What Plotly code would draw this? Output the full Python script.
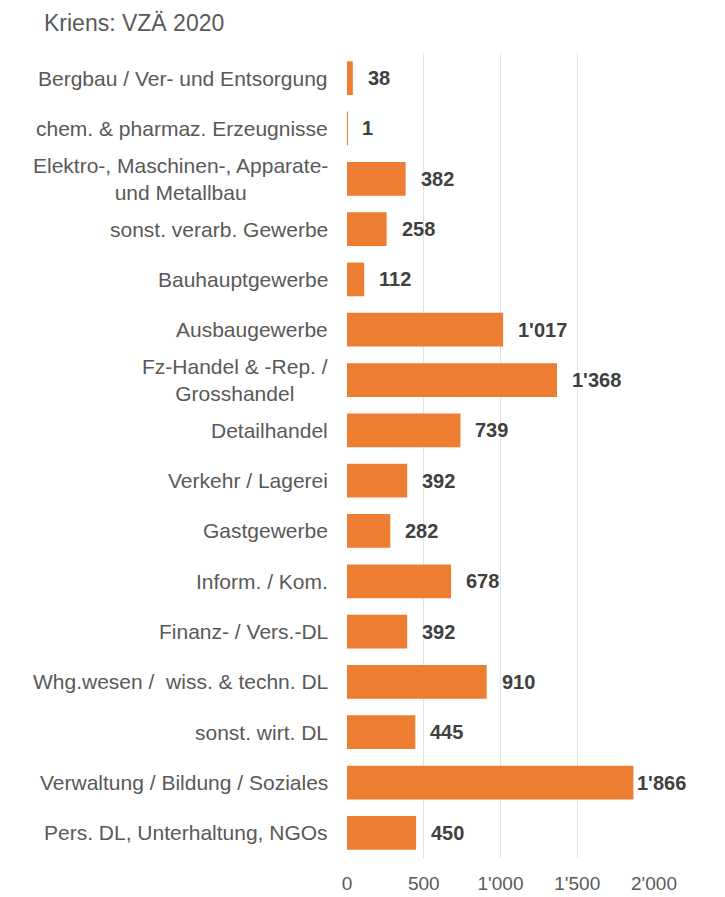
import plotly.graph_objects as go

title = "Kriens: VZÄ 2020"
categories = [
    "Bergbau / Ver- und Entsorgung",
    "chem. & pharmaz. Erzeugnisse",
    "Elektro-, Maschinen-, Apparate-<br>und Metallbau",
    "sonst. verarb. Gewerbe",
    "Bauhauptgewerbe",
    "Ausbaugewerbe",
    "Fz-Handel & -Rep. /<br>Grosshandel",
    "Detailhandel",
    "Verkehr / Lagerei",
    "Gastgewerbe",
    "Inform. / Kom.",
    "Finanz- / Vers.-DL",
    "Whg.wesen /  wiss. & techn. DL",
    "sonst. wirt. DL",
    "Verwaltung / Bildung / Soziales",
    "Pers. DL, Unterhaltung, NGOs",
]
values = [38, 1, 382, 258, 112, 1017, 1368, 739, 392, 282, 678, 392, 910, 445, 1866, 450]
tick_vals = [0, 500, 1000, 1500, 2000]

BAR = "#ED7D31"
FONT = "Liberation Sans, Arial, sans-serif"

def fmt(v):
    return f"{v:,}".replace(",", "'")

fig = go.Figure(go.Bar(
    x=values, y=categories, orientation="h",
    marker=dict(color=BAR, line=dict(width=0)),
    width=0.67,
    hoverinfo="skip",
))

annotations = []
for c, v in zip(categories, values):
    annotations.append(dict(
        x=0, y=c, xref="x", yref="y", text=c, showarrow=False,
        xanchor="right", align="center", xshift=-17,
        font=dict(family=FONT, size=21, color="#595959"),
    ))
    annotations.append(dict(
        x=v, y=c, xref="x", yref="y", text=f"<b>{fmt(v)}</b>", showarrow=False,
        xanchor="left", xshift=2 if v > 1800 else 13,
        font=dict(family=FONT, size=20, color="#404040"),
    ))

plot_w = 725 - 347 - 71
plot_h = 897 - 53 - 39
annotations.append(dict(
    x=(42 - 347) / plot_w, y=((897 - 23) - 39) / plot_h, xref="paper", yref="paper",
    text=title, showarrow=False,
    xanchor="left", yanchor="middle", font=dict(family=FONT, size=23, color="#595959"),
))

fig.update_layout(
    width=725, height=897,
    margin=dict(l=347, r=71, t=53, b=39, autoexpand=False),
    paper_bgcolor="white", plot_bgcolor="white",
    separators=".'",
    showlegend=False,
    annotations=annotations,
    xaxis=dict(
        range=[0, 2000], tickvals=tick_vals, tickformat=",d",
        showgrid=True, gridcolor="#E3E3E3", gridwidth=1,
        zeroline=False, showline=False, ticks="",
        tickfont=dict(family=FONT, size=19, color="#595959"),
        ticklabelstandoff=12, fixedrange=True,
    ),
    yaxis=dict(
        autorange="reversed", showticklabels=False, showgrid=False,
        zeroline=False, showline=False, ticks="", fixedrange=True,
    ),
)

fig.write_html("out.html")
